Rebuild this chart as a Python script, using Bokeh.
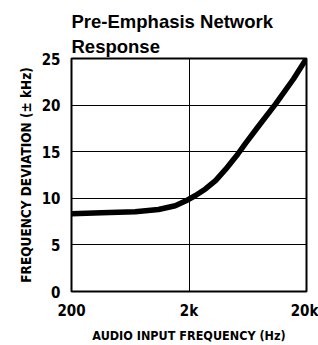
from bokeh.plotting import figure
from bokeh.models import Range1d, FixedTicker, Title
from bokeh.embed import file_html
from bokeh.resources import INLINE

freq_hz = [200, 360, 697, 1100, 1527, 1866, 2272, 2761, 3364, 4092, 5174, 6054, 7656, 10893, 15495, 20000]
deviation_khz = [8.35, 8.45, 8.55, 8.8, 9.2, 9.7, 10.3, 11.0, 11.9, 13.1, 14.7, 15.9, 17.6, 20.1, 22.8, 25.0]
x_ticks = [200, 2000, 20000]
x_tick_labels = ["200", "2k", "20k"]
y_ticks = [0, 5, 10, 15, 20, 25]

COND = "'DejaVu Sans Condensed', 'Liberation Sans Narrow', 'Roboto Condensed', sans-serif"

p = figure(width=318, height=345, x_axis_type="log", output_backend="svg",
           toolbar_location=None, title=None,
           x_range=Range1d(200, 20000), y_range=Range1d(0, 25),
           min_border_left=71, min_border_right=12, min_border_top=58, min_border_bottom=53)

p.add_layout(Title(text="Response", text_font="Liberation Sans", text_font_style="bold",
                   text_font_size="18.5px", text_color="black", align="left", offset=0, standoff=4), "above")
p.add_layout(Title(text="Pre-Emphasis Network", text_font="Liberation Sans", text_font_style="bold",
                   text_font_size="18.5px", text_color="black", align="left", offset=0, standoff=0), "above")

p.line(freq_hz, deviation_khz, line_color="black", line_width=5.5, line_join="round")

p.outline_line_color = "black"
p.outline_line_width = 2
p.background_fill_color = "white"
p.border_fill_color = "white"

p.xgrid.ticker = FixedTicker(ticks=x_ticks)
p.ygrid.ticker = FixedTicker(ticks=y_ticks)
for g in (p.xgrid, p.ygrid):
    g.grid_line_color = "black"
    g.grid_line_width = 1
    g.grid_line_alpha = 1

p.xaxis.ticker = FixedTicker(ticks=x_ticks)
p.xaxis.major_label_overrides = {t: l for t, l in zip(x_ticks, x_tick_labels)}
p.yaxis.ticker = FixedTicker(ticks=y_ticks)

for ax in (p.xaxis, p.yaxis):
    ax.axis_line_color = None
    ax.major_tick_line_color = None
    ax.minor_tick_line_color = None
    ax.major_tick_out = 0
    ax.major_tick_in = 0
    ax.major_label_text_font = COND
    ax.major_label_text_font_style = "bold"
    ax.major_label_text_font_size = "15px"
    ax.major_label_text_color = "black"
    ax.axis_label_text_font = COND
    ax.axis_label_text_font_style = "bold"
    ax.axis_label_text_color = "black"

p.xaxis.axis_label_text_font_size = "12.5px"
p.yaxis.axis_label_text_font_size = "13.5px"
p.xaxis.axis_label = "AUDIO INPUT FREQUENCY (Hz)"
p.yaxis.axis_label = "FREQUENCY DEVIATION (± kHz)"
p.xaxis.major_label_standoff = 10
p.yaxis.major_label_standoff = 11
p.xaxis.axis_label_standoff = 5
p.yaxis.axis_label_standoff = 5

open("out.html", "w").write(file_html(p, INLINE))
